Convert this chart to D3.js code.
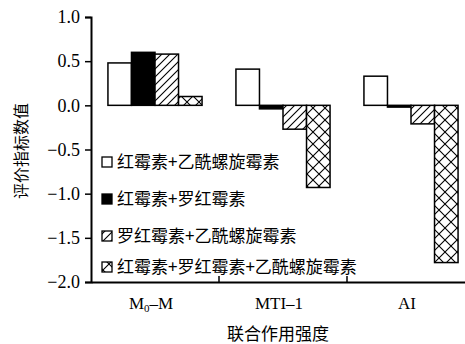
<!DOCTYPE html>
<html><head><meta charset="utf-8">
<script src="https://cdn.jsdelivr.net/npm/d3@7"></script>
<style>body{margin:0;background:#fff}svg{display:block}</style>
</head><body>
<svg id="c" width="465" height="344"></svg>
<script>
const categories = ["M0-M", "MTI-1", "AI"];
const seriesNames = ["红霉素+乙酰螺旋霉素", "红霉素+罗红霉素", "罗红霉素+乙酰螺旋霉素", "红霉素+罗红霉素+乙酰螺旋霉素"];
const s1 = [0.48, 0.41, 0.33];
const s2 = [0.60, -0.04, -0.02];
const s3 = [0.58, -0.27, -0.21];
const s4 = [0.10, -0.93, -1.78];
const seriesValues = [s1, s2, s3, s4];
const yTicks = [1.0, 0.5, 0.0, -0.5, -1.0, -1.5, -2.0];
const yTitle = "评价指标数值";
const xTitle = "联合作用强度";

const svg = d3.select("#c");
const fills = ["#fff", "#000", "url(#hatch)", "url(#cross)"];
const defs = svg.append("defs");
const h = defs.append("pattern").attr("id","hatch").attr("patternUnits","userSpaceOnUse")
  .attr("width",8).attr("height",8);
h.append("rect").attr("width",8).attr("height",8).attr("fill","#fff");
h.append("path").attr("d","M-2,2 L2,-2 M0,8 L8,0 M6,10 L10,6").attr("stroke","#000").attr("stroke-width",1.1);
const c = defs.append("pattern").attr("id","cross").attr("patternUnits","userSpaceOnUse")
  .attr("width",12).attr("height",12).attr("x",1);
c.append("rect").attr("width",12).attr("height",12).attr("fill","#fff");
c.append("path").attr("d","M0,0 L12,12 M0,12 L12,0").attr("stroke","#000").attr("stroke-width",1.1);

const x0 = d3.scaleBand().domain(categories).range([91, 475]).paddingInner(0).paddingOuter(0);
const x1 = d3.scaleBand().domain(d3.range(seriesNames.length)).range([0, x0.bandwidth()]).paddingInner(0).paddingOuter(0.72);
const y = d3.scaleLinear().domain([-2, 1]).range([282, 17]);

// bars
const g = svg.append("g");
categories.forEach((cat, ci) => {
  seriesValues.forEach((vals, si) => {
    const v = vals[ci];
    g.append("rect")
      .attr("x", x0(cat) + x1(si))
      .attr("width", x1.bandwidth())
      .attr("y", y(Math.max(0, v)))
      .attr("height", Math.abs(y(v) - y(0)))
      .attr("fill", fills[si]).attr("stroke", "#000").attr("stroke-width", 1.5);
  });
});

// y axis
const ya = svg.append("g").attr("transform","translate(91,0)")
  .call(d3.axisLeft(y).tickValues(yTicks).tickFormat(d3.format(".1f")).tickSize(6).tickPadding(5));
ya.select(".domain").attr("stroke-width",2);
ya.selectAll(".tick line").attr("stroke-width",1.5);
ya.selectAll("text").attr("font-family","Liberation Serif").attr("font-size",18).attr("fill","#000");

// x axis
const xa = svg.append("g").attr("transform","translate(0,282)")
  .call(d3.axisTop(x0).tickSize(6).tickSizeOuter(0).tickFormat(""));
xa.select(".domain").attr("stroke-width",2);
xa.selectAll(".tick line").attr("stroke-width",1.5).attr("transform", d => `translate(${-x0.bandwidth()/2},0)`);
xa.selectAll(".tick").filter((d,i)=>i===0).select("line").remove();

// category labels
categories.forEach(cat => {
  const t = svg.append("text").attr("x", x0(cat) + x0.bandwidth()/2 - 4).attr("y", 309)
    .attr("text-anchor","middle").attr("font-family","Liberation Serif").attr("font-size",17);
  const m = cat.match(/^M(\d)-(.*)$/);
  if (m) {
    t.append("tspan").text("M");
    t.append("tspan").text(m[1]).attr("font-size",11).attr("dy",3);
    t.append("tspan").text("–" + m[2]).attr("dy",-3);
  } else {
    t.text(cat.replace("-", "–"));
  }
});

// titles
svg.append("text").attr("x", 278).attr("y", 340).attr("text-anchor","middle")
  .attr("font-family","Noto Sans CJK SC").attr("font-size",17).text(xTitle);
svg.append("text").attr("transform","translate(27,151) rotate(-90)").attr("text-anchor","middle")
  .attr("font-family","Noto Sans CJK SC").attr("font-size",16).text(yTitle);

// legend
const legY = [162, 199, 236, 267];
seriesNames.forEach((name, i) => {
  svg.append("rect").attr("x",102).attr("y",legY[i]-5).attr("width",10).attr("height",10)
    .attr("fill",fills[i]).attr("stroke","#000").attr("stroke-width",1.3);
  svg.append("text").attr("x",117).attr("y",legY[i]).attr("dy","0.35em")
    .attr("font-family","Noto Sans CJK SC").attr("font-size",17).text(name);
});
</script>
</body></html>
